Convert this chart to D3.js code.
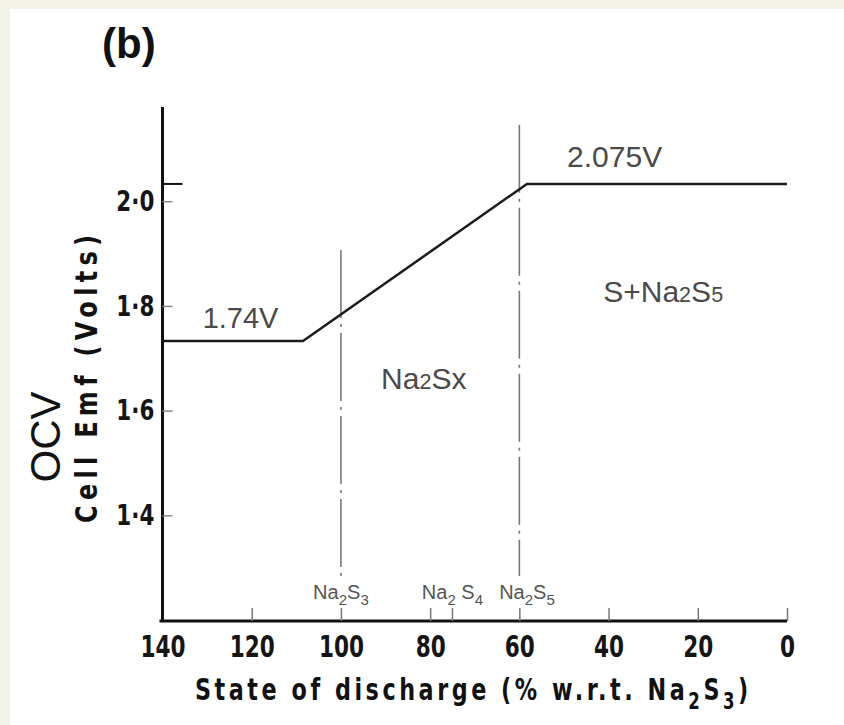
<!DOCTYPE html>
<html><head><meta charset="utf-8">
<script src="https://cdn.jsdelivr.net/npm/d3@7/dist/d3.min.js"></script>
<style>
html,body{margin:0;padding:0;background:#f2f2e8;}
svg{display:block;}
</style>
</head><body>
<svg id="chart" width="844" height="725"></svg>
<script>
// ---------- data ----------
const xTicks = [140, 120, 100, 80, 60, 40, 20, 0];
const xMinorTicks = [75];
const yTicks = [1.4, 1.6, 1.8, 2.0];
const yTickLabels = ["1·4", "1·6", "1·8", "2·0"];
const ocvDischarge = [140, 108.5, 58.3, 0];        // % w.r.t. Na2S3
const ocvVolts = [1.733, 1.733, 2.033, 2.033];     // cell emf (V)
const plateauMark = [2.033];
const phaseBoundaryX = [100, 60];
const phaseBoundaryTop = [1.907, 2.146];
const phaseBoundaryBottom = [1.284, 1.284];
const compoundX = [100, 75, 58.3];
const compoundSub1 = ["2", "2", "2"];
const compoundSub2 = ["3", "4", "5"];
const compoundGap = ["", " ", ""];

// ---------- layout ----------
const svg = d3.select("#chart");
svg.append("rect").attr("x", 10).attr("y", 9).attr("width", 834).attr("height", 716).attr("fill", "#ffffff");

const x = d3.scaleLinear().domain([140, 0]).range([162.5, 787]);
const y = d3.scaleLinear().domain([1.2, 2.18]).range([620, 107]);

const textGray = "#4a4a4a";

// axes
const xAxis = d3.axisBottom(x).tickValues(xTicks).tickFormat(d3.format("d"))
  .tickSizeInner(-13).tickSizeOuter(0).tickPadding(15);
const gx = svg.append("g").attr("transform", `translate(0,${y(1.2) + 1})`).call(xAxis);
gx.select(".domain").attr("stroke", "#111").attr("stroke-width", 3.2)
  .attr("d", `M${x(140) - 3},0H${x(0)}`);
gx.selectAll(".tick line").attr("stroke", "#777").attr("stroke-width", 1.5);
gx.selectAll(".tick text")
  .attr("font-family", "DejaVu Sans, sans-serif").attr("font-weight", "bold")
  .attr("font-size", 30).attr("fill", "#151515")
  .attr("transform", "scale(0.72,1)");

// minor tick at 75
gx.selectAll(".minor").data(xMinorTicks).enter().append("line")
  .attr("x1", d => x(d)).attr("x2", d => x(d)).attr("y1", 0).attr("y2", -13)
  .attr("stroke", "#777").attr("stroke-width", 1.5);

const yAxis = d3.axisLeft(y).tickValues(yTicks).tickFormat((d, i) => yTickLabels[i])
  .tickSizeInner(-10).tickSizeOuter(0).tickPadding(11);
const gy = svg.append("g").attr("transform", `translate(${x(140)},0)`).call(yAxis);
gy.select(".domain").attr("stroke", "#111").attr("stroke-width", 3)
  .attr("d", `M0,${y(1.2) + 1}V${y(2.18)}`);
gy.selectAll(".tick line").attr("stroke", "#888").attr("stroke-width", 1.5);
gy.selectAll(".tick text")
  .attr("font-family", "DejaVu Sans, sans-serif").attr("font-weight", "bold")
  .attr("font-size", 29).attr("fill", "#151515")
  .attr("transform", "scale(0.74,1)");

// plateau level mark on the y axis
gy.selectAll(".plateau").data(plateauMark).enter().append("line")
  .attr("x1", 0).attr("x2", 20).attr("y1", d => y(d)).attr("y2", d => y(d))
  .attr("stroke", "#111").attr("stroke-width", 2);

// phase boundary dash-dot lines
svg.selectAll(".phase").data(phaseBoundaryX).enter().append("line")
  .attr("x1", d => x(d)).attr("x2", d => x(d))
  .attr("y1", (d, i) => y(phaseBoundaryTop[i])).attr("y2", (d, i) => y(phaseBoundaryBottom[i]))
  .attr("stroke", "#7a7a7a").attr("stroke-width", 1.6)
  .attr("stroke-dasharray", "68,6,3,6");

// OCV curve
const line = d3.line().x(d => x(d[0])).y(d => y(d[1]));
svg.append("path").datum(ocvDischarge.map((d, i) => [d, ocvVolts[i]]))
  .attr("d", line).attr("fill", "none").attr("stroke", "#1c1c1c")
  .attr("stroke-width", 2.5).attr("stroke-linejoin", "round");

// compound labels above x axis
const comp = svg.selectAll(".comp").data(compoundX).enter().append("text")
  .attr("x", d => x(d)).attr("y", y(1.2) - 21)
  .attr("text-anchor", "middle").attr("font-family", "Liberation Sans, Arial, sans-serif")
  .attr("font-size", 20).attr("fill", "#555");
comp.append("tspan").text("Na");
comp.append("tspan").attr("dy", 6).attr("font-size", 15).text((d, i) => compoundSub1[i]);
comp.append("tspan").attr("dy", -6).text((d, i) => compoundGap[i] + "S");
comp.append("tspan").attr("dy", 6).attr("font-size", 15).text((d, i) => compoundSub2[i]);

// annotations
function label(xv, yv, parts, size) {
  const t = svg.append("text").attr("x", x(xv)).attr("y", y(yv))
    .attr("font-family", "Liberation Sans, Arial, sans-serif")
    .attr("font-size", size).attr("fill", textGray);
  parts.forEach(p => t.append("tspan").attr("font-size", p[1] ? size * 0.72 : size).text(p[0]));
  return t;
}
label(131, 1.757, [["1.74V"]], 29);
label(49.3, 2.065, [["2.075V"]], 30);
label(41.2, 1.807, [["S+Na"], ["2", 1], ["S"], ["5", 1]], 30);
label(91.0, 1.641, [["Na"], ["2", 1], ["Sx"]], 30);

// panel label
svg.append("text").attr("x", 102).attr("y", 58)
  .attr("font-family", "Liberation Sans, Arial, sans-serif").attr("font-weight", "bold")
  .attr("font-size", 42).attr("fill", "#111").text("(b)");

// y titles
svg.append("text").attr("transform", "translate(60,437) rotate(-90)")
  .attr("text-anchor", "middle").attr("font-family", "Liberation Sans, Arial, sans-serif")
  .attr("font-size", 42).attr("fill", "#111").text("OCV");
svg.append("text").attr("transform", "translate(97,379) rotate(-90) scale(0.8,1)")
  .attr("text-anchor", "middle").attr("font-family", "DejaVu Sans, sans-serif")
  .attr("font-weight", "bold").attr("font-size", 30).attr("fill", "#111")
  .attr("textLength", 360).attr("lengthAdjust", "spacing")
  .text("Cell  Emf (Volts)");

// x title
const xt = svg.append("text").attr("transform", "translate(195,700) scale(0.72,1)")
  .attr("font-family", "DejaVu Sans, sans-serif").attr("font-weight", "bold")
  .attr("font-size", 31).attr("fill", "#111").attr("letter-spacing", 4.9);
xt.append("tspan").text("State of discharge (% w.r.t. Na");
xt.append("tspan").attr("dy", 9).attr("font-size", 23).text("2");
xt.append("tspan").attr("dy", -9).text("S");
xt.append("tspan").attr("dy", 9).attr("font-size", 23).text("3");
xt.append("tspan").attr("dy", -9).text(")");
</script>
</body></html>
